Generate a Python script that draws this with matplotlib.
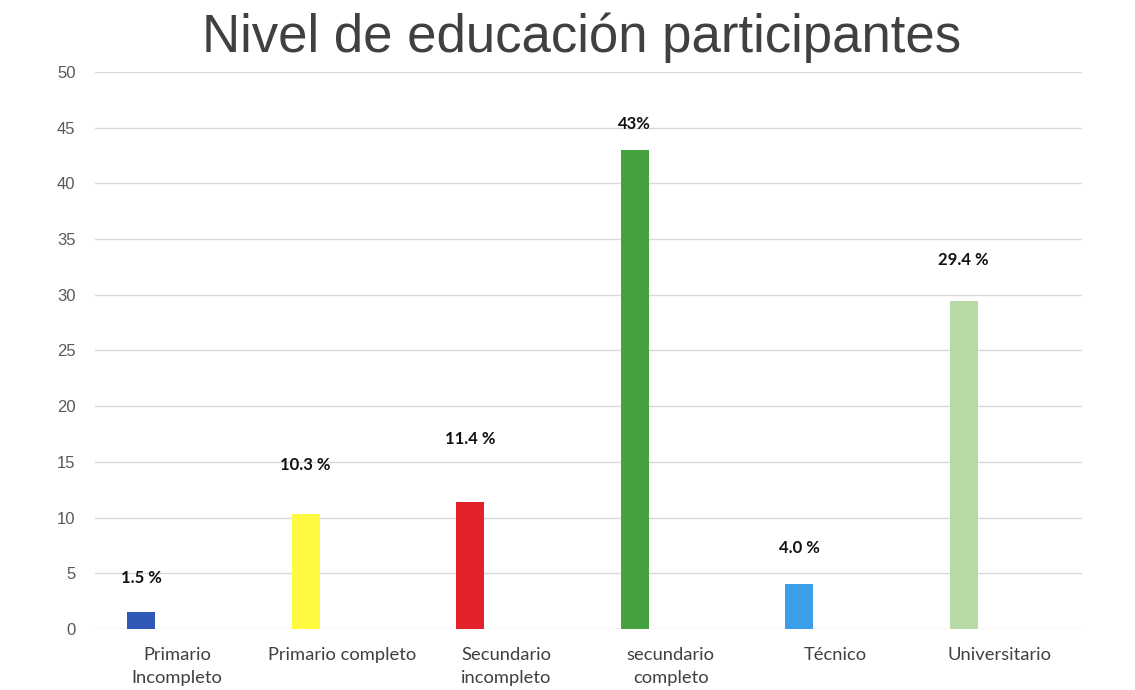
import matplotlib
matplotlib.use("Agg")
import matplotlib.pyplot as plt
import numpy as np

categories = ["Primario\nIncompleto", "Primario completo", "Secundario\nincompleto",
              "secundario\ncompleto", "Técnico", "Universitario"]
values = [1.5, 10.3, 11.4, 43.0, 4.0, 29.4]
value_labels = ["1.5 %", "10.3 %", "11.4 %", "43%", "4.0 %", "29.4 %"]
colors = ["#3058B6", "#FFF940", "#E3212A", "#44A340", "#3A9EE8", "#B8DBA5"]

# labels were hand-placed above each bar, so their gaps differ (points)
label_gaps = [25, 35.5, 45.5, 19, 26, 29.5]

fig = plt.figure(figsize=(11.35, 6.9), dpi=100)
ax = fig.add_axes([0.0837, 0.0884, 0.8696, 0.8073])

x = np.arange(len(categories))
bar_x = x - 0.22
ax.bar(bar_x, values, width=0.17, color=colors, zorder=3)

for bx, v, lab, gap in zip(bar_x, values, value_labels, label_gaps):
    ax.annotate(lab, (bx, v), xytext=(0, gap), textcoords="offset points",
                ha="center", va="center", fontsize=12, fontweight="bold",
                family="Lato", color="#111111")

ax.set_xlim(-0.5, len(categories) - 0.5)
ax.set_ylim(0, 50)
ax.set_yticks(range(0, 51, 5))
ax.set_xticks(x)
ax.set_xticklabels(categories, family="Lato", fontsize=13.2, color="#404040",
                   linespacing=1.5, va="top")
ax.tick_params(axis="both", length=0)
ax.tick_params(axis="x", pad=13)
ax.tick_params(axis="y", pad=14, labelsize=12, labelcolor="#595959")
for t in ax.get_yticklabels():
    t.set_family("Liberation Sans")

ax.grid(axis="y", color="#D9D9D9", linewidth=1, zorder=0)
for s in ax.spines.values():
    s.set_visible(False)

fig.text(0.512, 0.945, "Nivel de educación participantes", ha="center", va="center",
         fontsize=38, family="Liberation Sans", color="#404040")

fig.savefig("out.png", dpi=100)
